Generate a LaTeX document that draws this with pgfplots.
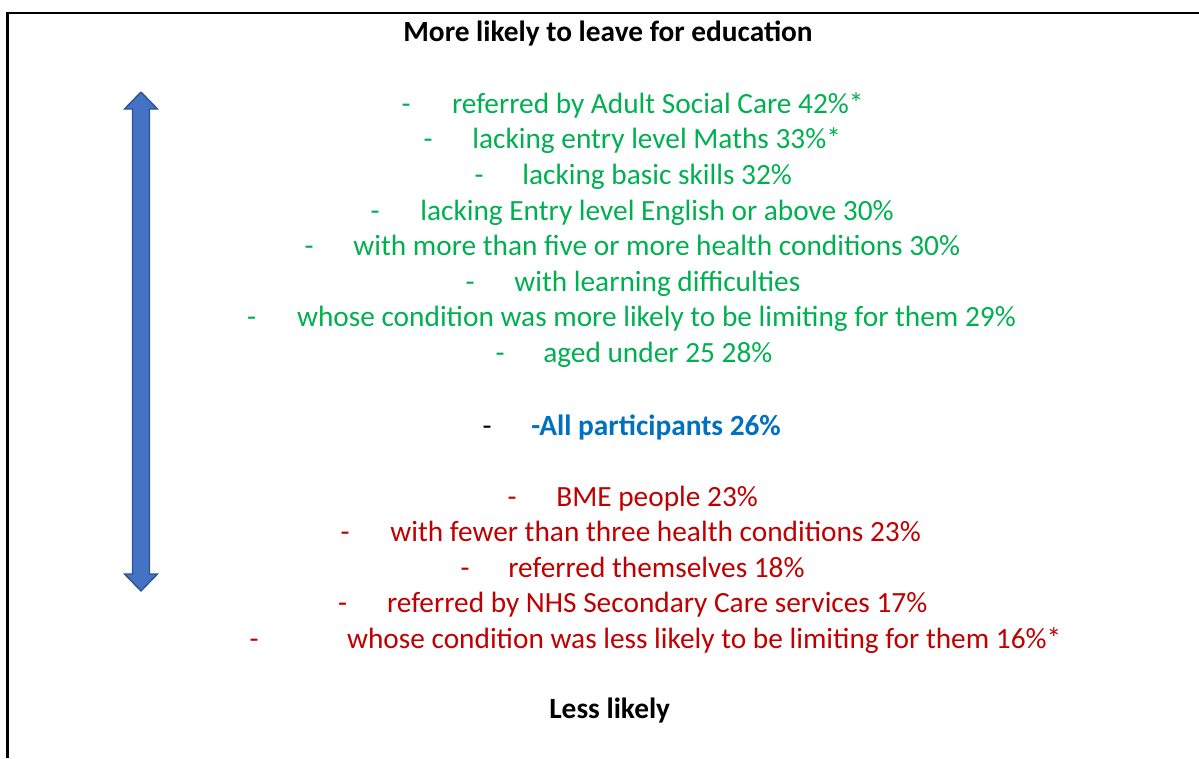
\documentclass[border=0pt]{standalone}
\usepackage{pgfplots}
\pgfplotsset{compat=1.18}
\usepackage{fontspec}
\setmainfont{Carlito}

\definecolor{goodgreen}{RGB}{0,176,80}
\definecolor{badred}{RGB}{192,0,0}
\definecolor{allblue}{RGB}{0,112,192}
\definecolor{arrowfill}{RGB}{68,114,196}
\definecolor{arrowedge}{RGB}{47,82,143}

% one row of text per point; the text is the point meta
\pgfplotsset{
  textrow/.style={
    only marks, mark=*, mark size=0pt, mark options={draw=none,fill=none},
    point meta=explicit symbolic,
    nodes near coords,
    nodes near coords align={anchor=base west},
    every node near coord/.append style={anchor=base west, inner sep=0pt,
      font=\fontsize{17.6}{21}\selectfont, text=#1},
  },
  dashrow/.style={
    only marks, mark=*, mark size=0pt, mark options={draw=none,fill=none},
    point meta=explicit symbolic,
    nodes near coords,
    nodes near coords align={anchor=base},
    every node near coord/.append style={anchor=base, inner sep=0pt,
      font=\fontsize{17.6}{21}\selectfont, text=#1},
  },
}

\begin{document}
\begin{tikzpicture}
\begin{axis}[
  width=719.4pt, height=454.8pt, scale only axis,
  xmin=0, xmax=1199, ymin=0, ymax=758, y dir=reverse,
  hide axis, clip=false,
]
% frame (top and left edges only are in view)
\addplot[black, line width=1.4pt] coordinates {(7.5,758) (7.5,13.3) (1199,13.3)};

% double arrow
\addplot[fill=arrowfill, draw=arrowedge, line width=0.8pt] coordinates {
  (141,92) (157.5,109) (149.5,109) (149.5,574) (157.5,574) (141,591)
  (124.5,574) (132.5,574) (132.5,109) (124.5,109) (141,92)};

% headings
\addplot[textrow=black] coordinates {
  (403,41) [\textbf{More likely to leave for education}]
  (549,718.3) [\textbf{Less likely}]
};

% more likely (green)
\addplot[dashrow=goodgreen] coordinates {
  (406,113.3) [-] (428,148.9) [-] (479,184.5) [-] (375,220.1) [-]
  (309,255.6) [-] (470,291.2) [-] (251.7,326.8) [-] (500,362.4) [-]
};
\addplot[textrow=goodgreen] coordinates {
  (451.7,113.3) [referred by Adult Social Care 42\%*]
  (472,148.9) [lacking entry level Maths 33\%*]
  (522,184.5) [lacking basic skills 32\%]
  (420,220.1) [lacking Entry level English or above 30\%]
  (353,255.6) [with more than five or more health conditions 30\%]
  (514,291.2) [with learning difficulties]
  (296.7,326.8) [whose condition was more likely to be limiting for them 29\%]
  (543,362.4) [aged under 25 28\%]
};

% all participants (blue)
\addplot[dashrow=black] coordinates {(487,435.5) [-]};
\addplot[textrow=allblue] coordinates {(531,435.5) [\textbf{-All participants 26\%}]};

% less likely (red)
\addplot[dashrow=badred] coordinates {
  (512,506.3) [-] (345,541.8) [-] (465,577.3) [-] (342.7,612.8) [-] (254,648.3) [-]
};
\addplot[textrow=badred] coordinates {
  (556,506.3) [BME people 23\%]
  (390,541.8) [with fewer than three health conditions 23\%]
  (508,577.3) [referred themselves 18\%]
  (386.7,612.8) [referred by NHS Secondary Care services 17\%]
  (346.7,648.3) [whose condition was less likely to be limiting for them 16\%*]
};
\end{axis}
\pgfresetboundingbox
\useasboundingbox (current axis.south west) rectangle (current axis.north east);
\end{tikzpicture}
\end{document}
